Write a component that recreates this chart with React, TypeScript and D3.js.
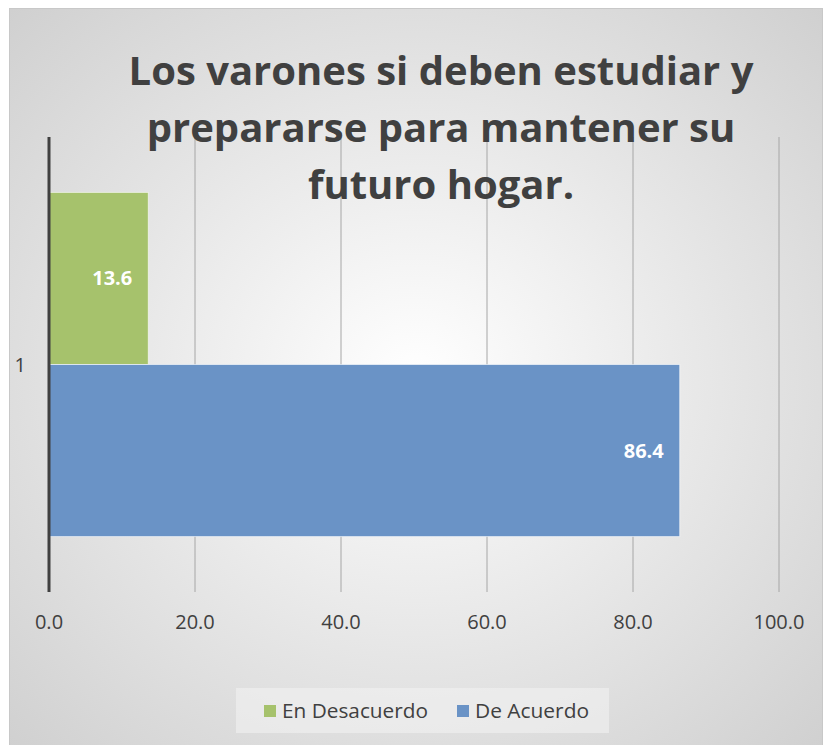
import React from "react";
import * as d3 from "d3";

const categories = ["1"];
const seriesNames = ["En Desacuerdo", "De Acuerdo"];
const desacuerdo = [13.6];
const acuerdo = [86.4];
const xTicks = [0, 20, 40, 60, 80, 100];
const titleLines = ["Los varones si deben estudiar y", "prepararse para mantener su", "futuro hogar."];
const colors = ["#a6c26c", "#6a93c6"];

const W = 823, H = 745;
const FONT = "'Open Sans', sans-serif";

export default function App() {
  const x = d3.scaleLinear().domain([0, 100]).range([49, 779]);
  const y = d3.scaleBand().domain(categories).range([137, 592]).paddingInner(0).paddingOuter(0.161);
  const sub = d3.scaleBand().domain(seriesNames).range([0, y.bandwidth()]).padding(0);
  const series = [desacuerdo, acuerdo];

  return (
    <svg width={W} height={H} style={{ position: "absolute", left: 0, top: 0 }} fontFamily={FONT}>
      <defs>
        <radialGradient id="bg" cx="0.5" cy="0.5" r="0.72">
          <stop offset="0" stopColor="#ffffff" />
          <stop offset="1" stopColor="#cfcfcf" />
        </radialGradient>
      </defs>
      <rect x={0} y={0} width={W} height={H} fill="#ffffff" />
      <rect x={9.5} y={8.5} width={813} height={740} fill="url(#bg)" stroke="#c8c8c8" strokeWidth={1} />
      {xTicks.slice(1).map((t) => (
        <line key={t} x1={x(t)} x2={x(t)} y1={137} y2={592} stroke="#a6a6a6" strokeWidth={1} />
      ))}
      {categories.map((c, i) =>
        series.map((s, j) => (
          <rect
            key={c + j}
            x={x(0)}
            y={(y(c) as number) + (sub(seriesNames[j]) as number)}
            width={x(s[i]) - x(0)}
            height={sub.bandwidth()}
            fill={colors[j]}
            stroke="#ffffff"
            strokeOpacity={0.6}
            strokeWidth={1}
          />
        ))
      )}
      {categories.map((c, i) =>
        series.map((s, j) => (
          <text
            key={"l" + c + j}
            x={x(s[i]) - 16}
            y={(y(c) as number) + (sub(seriesNames[j]) as number) + sub.bandwidth() / 2}
            dy="0.35em"
            textAnchor="end"
            fill="#ffffff"
            fontWeight="bold"
            fontSize={20}
          >
            {s[i].toFixed(1)}
          </text>
        ))
      )}
      <line x1={x(0)} x2={x(0)} y1={137} y2={592} stroke="#404040" strokeWidth={3} />
      {categories.map((c) => (
        <text key={c} x={26} y={(y(c) as number) + y.bandwidth() / 2} dy="0.35em" textAnchor="end" fontSize={20} fill="#404040">
          {c}
        </text>
      ))}
      {xTicks.map((t) => (
        <text key={t} x={x(t)} y={622} dy="0.35em" textAnchor="middle" fontSize={20} fill="#404040">
          {t.toFixed(1)}
        </text>
      ))}
      {titleLines.map((l, i) => (
        <text key={i} x={441} y={85 + i * 57} textAnchor="middle" fontSize={40} fontWeight="bold" fill="#404040">
          {l}
        </text>
      ))}
      <rect x={236} y={688} width={373} height={45} fill="#f2f2f2" fillOpacity={0.6} />
      <rect x={264} y={705} width={12} height={12} fill={colors[0]} />
      <text x={282} y={711} dy="0.35em" fontSize={20} fill="#404040" textLength={146} lengthAdjust="spacingAndGlyphs">{seriesNames[0]}</text>
      <rect x={457} y={705} width={12} height={12} fill={colors[1]} />
      <text x={475} y={711} dy="0.35em" fontSize={20} fill="#404040" textLength={114} lengthAdjust="spacingAndGlyphs">{seriesNames[1]}</text>
    </svg>
  );
}
